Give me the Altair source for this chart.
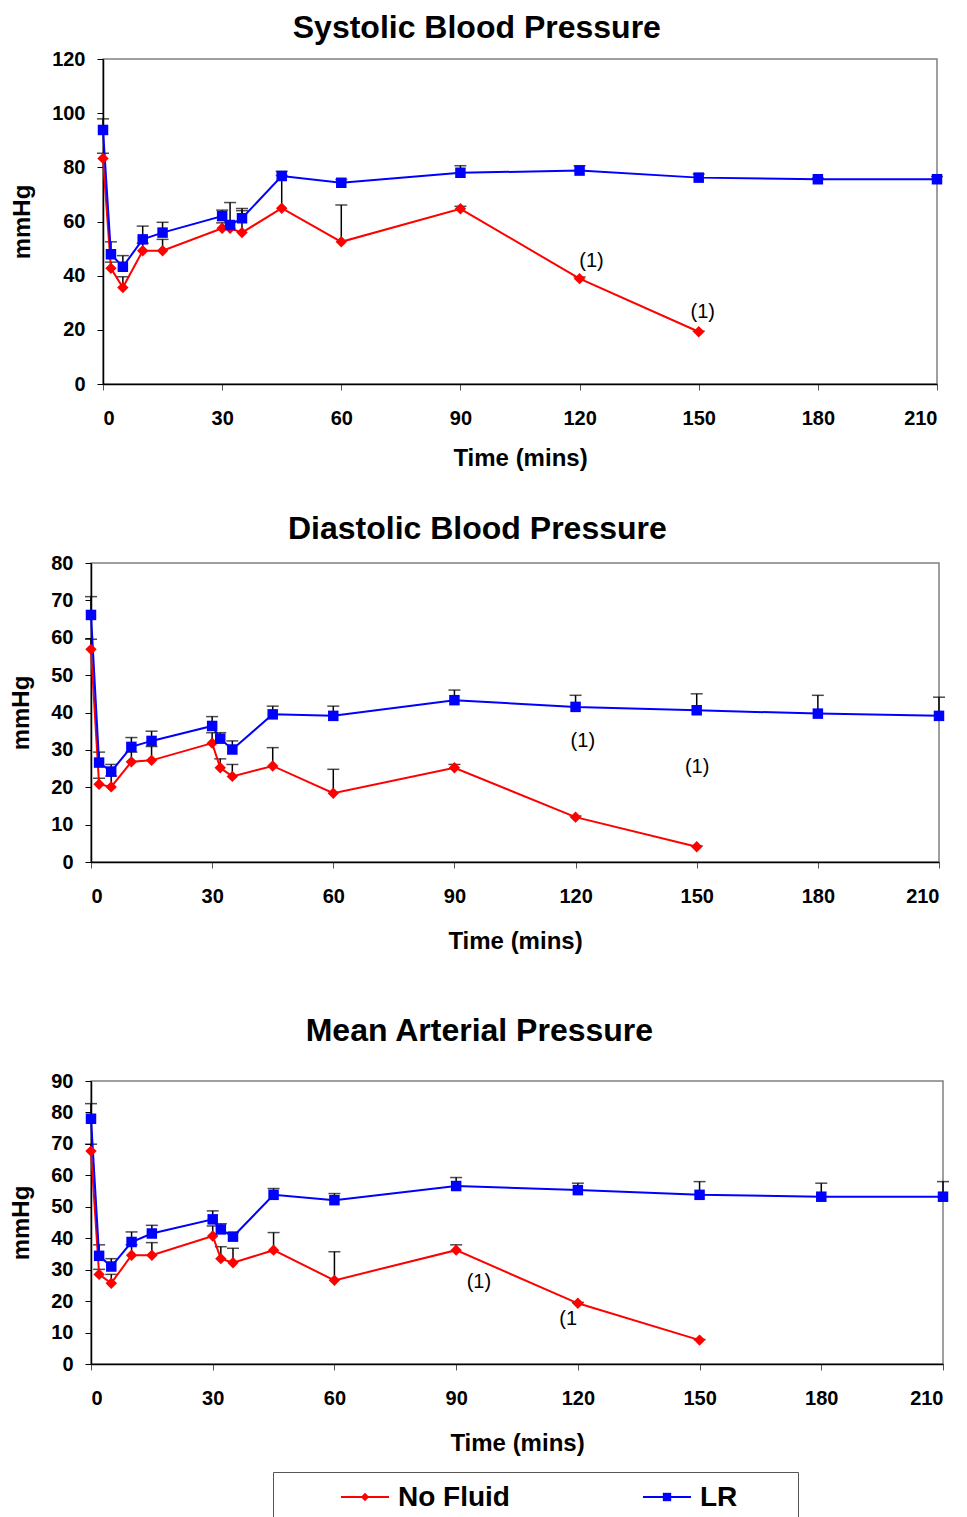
import altair as alt
import pandas as pd

FONT = "Liberation Sans"

times = [0, 2, 5, 10, 15, 30, 32, 35, 45, 60, 90, 120, 150, 180, 210]
series_names = ["No Fluid", "LR"]
series_colors = ["#FF0000", "#0000FF"]
series_shapes = ["diamond", "square"]
series_sizes = [130, 110]
x_ticks = [0, 30, 60, 90, 120, 150, 180, 210]

# Systolic blood pressure (mean and upper error bar)
sbp_nofluid = [83.3, 42.7, 35.6, 49.2, 49.2, 57.5, 57.5, 55.9, 64.9, 52.5, 64.7, 38.9, 19.3]
sbp_nofluid_up = [85.2, 45.0, 39.6, 52.0, 53.4, 59.5, 60.0, 64.0, 77.0, 66.1, 65.6, 39.5, 19.5]
sbp_lr = [93.8, 47.9, 43.3, 53.4, 55.9, 62.0, 58.7, 61.2, 76.8, 74.3, 78.0, 78.8, 76.2, 75.6, 75.6]
sbp_lr_up = [97.9, 52.5, 47.4, 58.3, 59.7, 64.2, 67.0, 64.8, 78.5, 75.5, 80.6, 80.6, 77.5, 76.0, 76.6]

# Diastolic blood pressure
dbp_nofluid = [56.9, 20.8, 20.1, 26.8, 27.2, 31.8, 25.2, 22.9, 25.7, 18.4, 25.2, 12.0, 4.1]
dbp_nofluid_up = [59.6, 22.4, 23.0, 29.4, 30.9, 34.6, 27.6, 26.1, 30.6, 24.8, 26.1, 12.3, 4.3]
dbp_lr = [66.1, 26.6, 24.2, 30.8, 32.4, 36.4, 33.0, 30.1, 39.5, 39.1, 43.3, 41.5, 40.6, 39.7, 39.1]
dbp_lr_up = [71.0, 29.4, 26.1, 33.3, 35.0, 38.9, 34.6, 32.4, 41.7, 41.7, 46.0, 44.6, 45.0, 44.6, 44.1]

# Mean arterial pressure
map_nofluid = [67.7, 28.5, 25.7, 34.6, 34.6, 40.7, 33.5, 32.2, 36.2, 26.6, 36.2, 19.3, 7.6]
map_nofluid_up = [69.9, 30.1, 28.5, 37.9, 38.6, 43.9, 37.3, 36.8, 41.8, 35.7, 37.9, 19.6, 7.8]
map_lr = [78.0, 34.4, 31.0, 38.8, 41.5, 46.0, 42.8, 40.5, 53.8, 52.1, 56.6, 55.3, 53.8, 53.2, 53.2]
map_lr_up = [82.8, 37.9, 33.5, 42.0, 44.1, 48.7, 44.6, 41.8, 55.8, 54.2, 59.3, 57.5, 58.0, 57.5, 58.0]

# "(1)" annotations (time, value, label)
sbp_note_time = [123, 151]
sbp_note_value = [45.4, 26.6]
sbp_note_label = ["(1)", "(1)"]
dbp_note_time = [121.8, 150.1]
dbp_note_value = [32.4, 25.4]
dbp_note_label = ["(1)", "(1)"]
map_note_time = [95.6, 117.6]
map_note_value = [26.1, 14.3]
map_note_label = ["(1)", "(1"]


def make_df(nf, nf_up, lr, lr_up):
    rows = []
    for t, v, u in zip(times, nf, nf_up):
        rows.append({"time": t, "value": v, "upper": u, "series": "No Fluid"})
    for t, v, u in zip(times, lr, lr_up):
        rows.append({"time": t, "value": v, "upper": u, "series": "LR"})
    return pd.DataFrame(rows)


def spacer(width, height):
    return alt.Chart(pd.DataFrame({"series": series_names})).mark_point(
        opacity=0, size=0, strokeWidth=0
    ).encode(
        x=alt.value(0), y=alt.value(0)
    ).properties(width=width, height=height, view=alt.ViewBackground(strokeOpacity=0))


def panel(df, notes, title, ymax, ystep, width, height, title_offset, xtitle_pad):
    xs = alt.Scale(domain=[0, 210], nice=False, zero=False)
    ys = alt.Scale(domain=[0, ymax], nice=False)
    xaxis = alt.Axis(values=x_ticks, title="Time (mins)", tickColor="#555555",
                     tickSize=6, labelPadding=18, titlePadding=xtitle_pad)
    yaxis = alt.Axis(values=list(range(0, ymax + 1, ystep)), title="mmHg",
                     tickSize=6, labelPadding=12, titlePadding=17)
    X = alt.X("time:Q", scale=xs, axis=xaxis)
    color = alt.Color("series:N", scale=alt.Scale(domain=series_names, range=series_colors), legend=None)
    shape = alt.Shape("series:N", scale=alt.Scale(domain=series_names, range=series_shapes), legend=None)
    size = alt.Size("series:N", scale=alt.Scale(domain=series_names, range=series_sizes), legend=None)
    base = alt.Chart(df)
    err = base.mark_rule(color="black", strokeWidth=1.5).encode(
        x=X, y=alt.Y("value:Q", scale=ys, axis=yaxis), y2="upper:Q")
    cap = base.mark_tick(color="black", orient="horizontal", size=12, thickness=1.5).encode(
        x=X, y=alt.Y("upper:Q", scale=ys, axis=yaxis))
    line = base.mark_line(strokeWidth=2).encode(
        x=X, y=alt.Y("value:Q", scale=ys, axis=yaxis), color=color)
    pts = base.mark_point(filled=True, opacity=1).encode(
        x=X, y=alt.Y("value:Q", scale=ys, axis=yaxis), color=color, shape=shape, size=size)
    txt = alt.Chart(notes).mark_text(font=FONT, fontSize=20, color="black").encode(
        x=alt.X("time:Q", scale=xs, axis=xaxis),
        y=alt.Y("value:Q", scale=ys, axis=yaxis), text="label:N")
    layer = alt.layer(err, cap, line, pts, txt).properties(
        width=width, height=height,
        title=alt.TitleParams(title, fontSize=32, font=FONT, fontWeight="bold",
                              anchor="middle", frame="bounds", offset=title_offset, dx=0),
    )
    return alt.hconcat(spacer(1, height), layer, spacing=0)


sbp = panel(make_df(sbp_nofluid, sbp_nofluid_up, sbp_lr, sbp_lr_up),
            pd.DataFrame({"time": sbp_note_time, "value": sbp_note_value, "label": sbp_note_label}),
            "Systolic Blood Pressure", 120, 20, 834, 325, 4, 18)
dbp = panel(make_df(dbp_nofluid, dbp_nofluid_up, dbp_lr, dbp_lr_up),
            pd.DataFrame({"time": dbp_note_time, "value": dbp_note_value, "label": dbp_note_label}),
            "Diastolic Blood Pressure", 80, 10, 848, 299, 7, 23)
mapc = panel(make_df(map_nofluid, map_nofluid_up, map_lr, map_lr_up),
             pd.DataFrame({"time": map_note_time, "value": map_note_value, "label": map_note_label}),
             "Mean Arterial Pressure", 90, 10, 852, 283, 23, 23)

# Legend box
leg_df = pd.DataFrame({"series": series_names})
lx = alt.X("series:N", scale=alt.Scale(type="point", domain=series_names, range=[92, 394], padding=0),
           axis=None)
lcolor = alt.Color("series:N", scale=alt.Scale(domain=series_names, range=series_colors), legend=None)
lshape = alt.Shape("series:N", scale=alt.Scale(domain=series_names, range=series_shapes), legend=None)
lbase = alt.Chart(leg_df)
leg_line = lbase.mark_rule(strokeWidth=2, xOffset=-24, x2Offset=24).encode(
    x=lx, x2="series:N", y=alt.value(25), color=lcolor)
leg_pt = lbase.mark_point(filled=True, size=70, opacity=1).encode(
    x=lx, y=alt.value(25), color=lcolor, shape=lshape)
leg_txt = lbase.mark_text(align="left", dx=33, font=FONT, fontSize=28, fontWeight="bold",
                          color="black").encode(x=lx, y=alt.value(26), text="series:N")
legend = alt.layer(leg_line, leg_pt, leg_txt).properties(
    width=525, height=60, view=alt.ViewBackground(stroke="#555555", strokeWidth=1))
legend_row = alt.hconcat(spacer(264, 60), legend, spacing=0)

chart = alt.vconcat(
    alt.vconcat(sbp, dbp, spacing=41),
    alt.vconcat(mapc, legend_row, spacing=15),
    spacing=60,
).properties(
    padding={"left": 0, "top": 3, "right": 0, "bottom": 0}
).configure_view(
    stroke="#808080", strokeWidth=1.5
).configure_axis(
    labelFont=FONT, labelFontSize=20, labelFontWeight="bold", labelColor="black",
    titleFont=FONT, titleFontSize=24, titleFontWeight="bold", titleColor="black",
    domainColor="black", domainWidth=1.5, tickColor="black", grid=False,
).configure_title(color="black")

chart.save("out.html", embed_options={"renderer": "svg", "actions": False})
